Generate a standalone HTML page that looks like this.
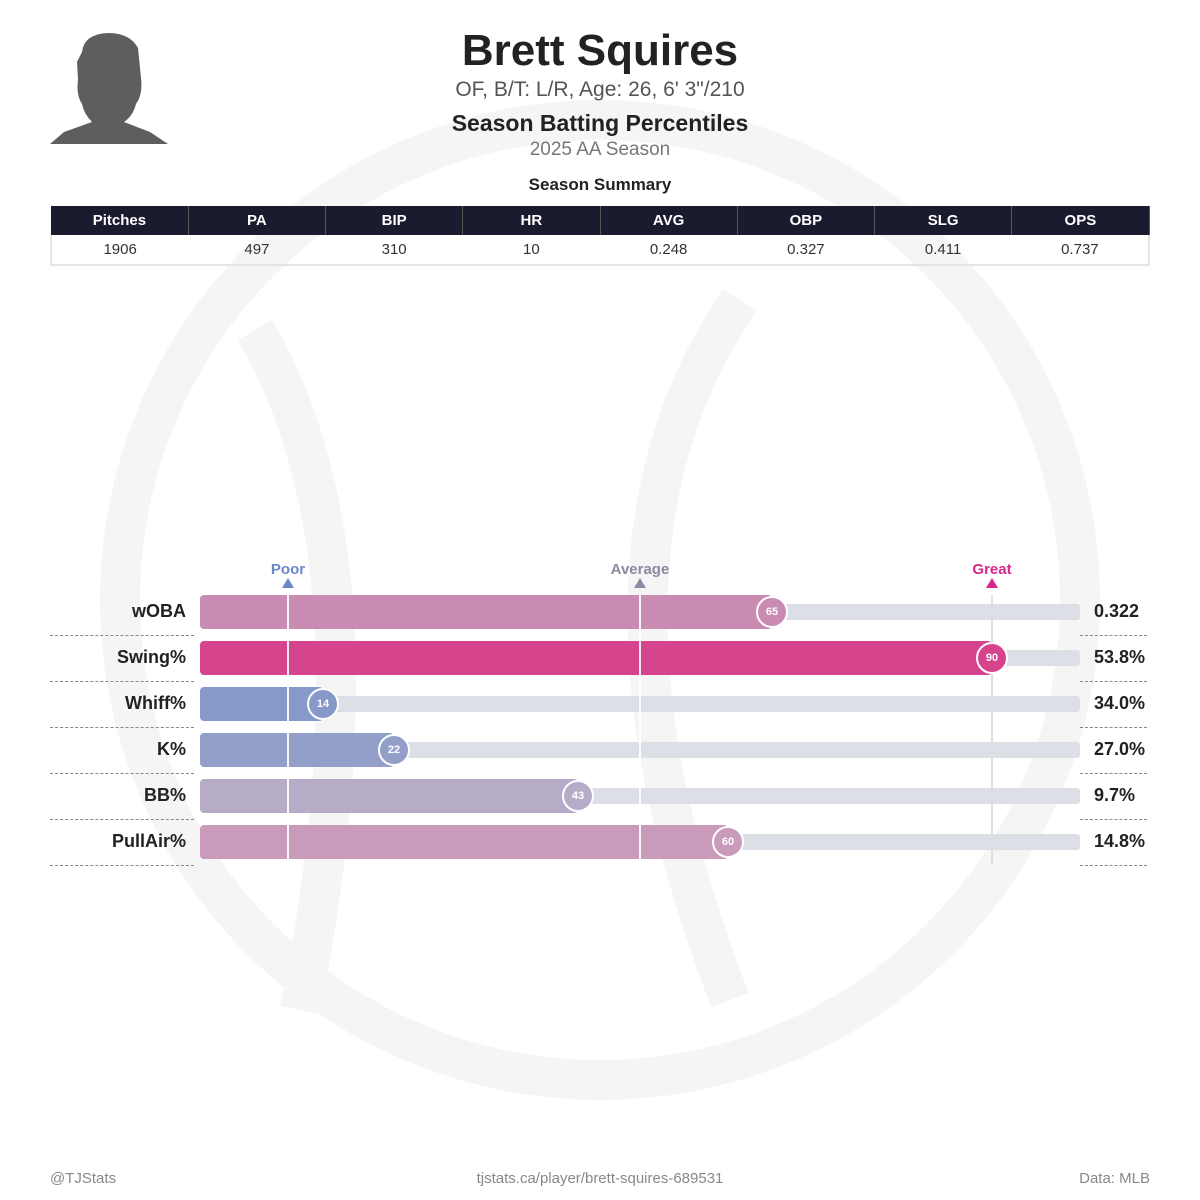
<!DOCTYPE html>
<html><head><style>
body{margin:0;width:1200px;height:1200px;background:#fff;font-family:"Liberation Sans","DejaVu Sans",sans-serif;position:relative;overflow:hidden;color:#222}
.a{position:absolute}
.c{text-align:center}
table{border-collapse:collapse;position:absolute;left:50px;top:206px;width:1100px;table-layout:fixed}
th{background:#1b1b2f;color:#fff;font-size:15px;height:29px;border-right:1px solid #555;padding:0}
td{font-size:15px;color:#333;text-align:center;height:29px;border-bottom:2px solid #e4e4e4;padding:0}
tr td:first-child{border-left:2px solid #e4e4e4}tr td:last-child{border-right:2px solid #e4e4e4}
.lab{position:absolute;right:1014px;font-weight:bold;font-size:18px;text-align:right}
.val{position:absolute;left:1094px;font-weight:bold;font-size:18px}
.dash{position:absolute;border-top:1px dashed #888;height:0}
.track{position:absolute;left:200px;width:880px;height:16px;background:#dcdfe6;border-radius:3px}
.bar{position:absolute;left:200px;height:34px;border-radius:4px}
.dot{position:absolute;width:28px;height:28px;border-radius:50%;border:2px solid #fff;color:#fff;font-size:11px;font-weight:bold;text-align:center;line-height:28px}
.vl{position:absolute;width:2px;background:#fff;opacity:.9}
</style></head><body>
<svg class="a" style="left:0;top:0" width="1200" height="1200">
<circle cx="600" cy="600" r="480" fill="none" stroke="#f5f5f5" stroke-width="40"/>
<path d="M255 330 Q390 560 300 1010" fill="none" stroke="#f5f5f5" stroke-width="40"/>
<path d="M740 300 Q560 560 730 1000" fill="none" stroke="#f5f5f5" stroke-width="40"/>
<path d="M82 52 Q84 34 108 33 Q130 33 138 48 L141 78 Q143 95 136 104 Q133 116 124 122 L150 132 L168 144 L50 144 L64 132 L92 122 Q84 114 82 104 Q76 95 78 80 L77 62 Z" fill="#5e5e5e"/>
</svg>
<div class="a c" style="left:300px;width:600px;top:26px;font-size:44px;font-weight:bold;color:#222">Brett Squires</div>
<div class="a c" style="left:300px;width:600px;top:78px;font-size:21px;color:#555">OF, B/T: L/R, Age: 26, 6' 3"/210</div>
<div class="a c" style="left:300px;width:600px;top:110px;font-size:23px;font-weight:bold">Season Batting Percentiles</div>
<div class="a c" style="left:300px;width:600px;top:139px;font-size:19px;color:#777">2025 AA Season</div>
<div class="a c" style="left:300px;width:600px;top:175px;font-size:17px;font-weight:bold">Season Summary</div>
<table><tr><th>Pitches</th><th>PA</th><th>BIP</th><th>HR</th><th>AVG</th><th>OBP</th><th>SLG</th><th>OPS</th></tr>
<tr><td>1906</td><td>497</td><td>310</td><td>10</td><td>0.248</td><td>0.327</td><td>0.411</td><td>0.737</td></tr></table>

<div class="a c" style="left:248px;width:80px;top:561px;font-size:15px;font-weight:bold;color:#6b86c8">Poor</div>
<div class="a c" style="left:590px;width:100px;top:561px;font-size:15px;font-weight:bold;color:#8a8aa0">Average</div>
<div class="a c" style="left:952px;width:80px;top:561px;font-size:15px;font-weight:bold;color:#d6288a">Great</div>
<svg class="a" style="left:0;top:577px" width="1200" height="12">
<polygon points="282,11 294,11 288,1" fill="#6b86c8"/><polygon points="634,11 646,11 640,1" fill="#8a8aa0"/><polygon points="986,11 998,11 992,1" fill="#d6288a"/></svg>

<div class="track" style="top:604px"></div><div class="bar" style="top:595px;width:572px;background:#c98bb1"></div>
<div class="track" style="top:650px"></div><div class="bar" style="top:641px;width:792px;background:#d6448e"></div>
<div class="track" style="top:696px"></div><div class="bar" style="top:687px;width:123px;background:#8799c8"></div>
<div class="track" style="top:742px"></div><div class="bar" style="top:733px;width:194px;background:#939fc8"></div>
<div class="track" style="top:788px"></div><div class="bar" style="top:779px;width:378px;background:#b7acc8"></div>
<div class="track" style="top:834px"></div><div class="bar" style="top:825px;width:528px;background:#c99ab9"></div>
<div class="vl" style="left:287px;top:595px;height:264px"></div>
<div class="vl" style="left:639px;top:595px;height:264px"></div>
<div class="vl" style="left:991px;top:595px;height:270px;background:#ddd"></div>
<div class="dot" style="left:756px;top:596px;background:#c98bb1">65</div>
<div class="dot" style="left:976px;top:642px;background:#d6448e">90</div>
<div class="dot" style="left:307px;top:688px;background:#8799c8">14</div>
<div class="dot" style="left:378px;top:734px;background:#939fc8">22</div>
<div class="dot" style="left:562px;top:780px;background:#b7acc8">43</div>
<div class="dot" style="left:712px;top:826px;background:#c99ab9">60</div>

<div class="lab" style="top:601px">wOBA</div><div class="val" style="top:601px">0.322</div>
<div class="lab" style="top:647px">Swing%</div><div class="val" style="top:647px">53.8%</div>
<div class="lab" style="top:693px">Whiff%</div><div class="val" style="top:693px">34.0%</div>
<div class="lab" style="top:739px">K%</div><div class="val" style="top:739px">27.0%</div>
<div class="lab" style="top:785px">BB%</div><div class="val" style="top:785px">9.7%</div>
<div class="lab" style="top:831px">PullAir%</div><div class="val" style="top:831px">14.8%</div>

<div class="dash" style="left:50px;width:144px;top:635px"></div><div class="dash" style="left:1080px;width:67px;top:635px"></div>
<div class="dash" style="left:50px;width:144px;top:681px"></div><div class="dash" style="left:1080px;width:67px;top:681px"></div>
<div class="dash" style="left:50px;width:144px;top:727px"></div><div class="dash" style="left:1080px;width:67px;top:727px"></div>
<div class="dash" style="left:50px;width:144px;top:773px"></div><div class="dash" style="left:1080px;width:67px;top:773px"></div>
<div class="dash" style="left:50px;width:144px;top:819px"></div><div class="dash" style="left:1080px;width:67px;top:819px"></div>
<div class="dash" style="left:50px;width:144px;top:865px"></div><div class="dash" style="left:1080px;width:67px;top:865px"></div>

<div class="a" style="left:50px;top:1170px;font-size:15px;color:#888">@TJStats</div>
<div class="a c" style="left:300px;width:600px;top:1170px;font-size:15px;color:#888">tjstats.ca/player/brett-squires-689531</div>
<div class="a" style="right:50px;top:1170px;font-size:15px;color:#888">Data: MLB</div>
</body></html>
